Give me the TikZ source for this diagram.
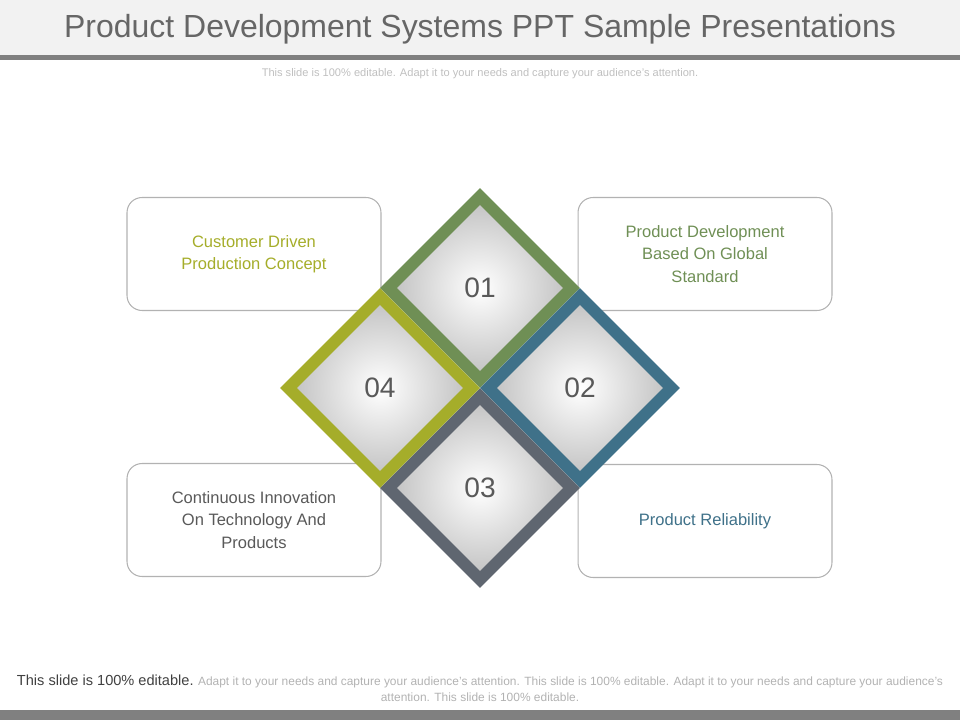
\documentclass[tikz,border=0pt]{standalone}
\usepackage{fontspec}
\setmainfont{Liberation Sans}
\usetikzlibrary{shapes.geometric}
\definecolor{frameGreen}{HTML}{6F8F55}
\definecolor{frameBlue}{HTML}{3F7189}
\definecolor{frameGray}{HTML}{5F6670}
\definecolor{frameOlive}{HTML}{A5AD2A}
\definecolor{textGray}{HTML}{595959}
\tikzset{
  infobox/.style={draw=black!30, line width=0.6pt, rounded corners=0.3cm, minimum width=5.08cm, minimum height=2.26cm, align=center, font=\fontsize{9.4}{12.6}\selectfont},
  tile/.style={diamond, aspect=1, inner sep=0pt, minimum size=3.76cm, line width=0.24cm, inner color=white, outer color=black!25, text=textGray, font=\fontsize{16}{18}\selectfont}
}
\begin{document}
\begin{tikzpicture}[x=0.02cm,y=-0.02cm]
    \useasboundingbox (0,0) rectangle (960,720);
    % header and footer bands
    \fill[black!5] (0,0) rectangle (960,55);
    \fill[black!50] (0,55) rectangle (960,60);
    \fill[black!50] (0,710) rectangle (960,720);
    \node[text=black!60, font=\fontsize{18.2}{20}\selectfont] (title) at (480,29) {Product Development  Systems  PPT  Sample  Presentations};
    \node[text=black!25, font=\fontsize{6.3}{8}\selectfont] (subtitle) at (480,74) {This slide is 100\%  editable.  Adapt it to your needs and capture your audience's attention.};

    % text boxes
    \node[infobox, text=frameOlive] (boxA) at (254,254) {Customer Driven\\Production Concept};
    \node[infobox, text=frameGreen] (boxB) at (705,254) {Product Development\\Based On Global\\Standard};
    \node[infobox, text=textGray] (boxD) at (254,520) {Continuous Innovation\\On Technology And\\Products};
    \node[infobox, text=frameBlue] (boxC) at (705,521) {Product Reliability};

    % diamond tiles
    \node[tile, draw=frameGreen] (tileA) at (480,288) {01};
    \node[tile, draw=frameBlue] (tileB) at (580,388) {02};
    \node[tile, draw=frameGray] (tileC) at (480,488) {03};
    \node[tile, draw=frameOlive] (tileD) at (380,388) {04};

    % footer text
    \node[align=center, text=black!30, font=\fontsize{6.8}{9}\selectfont] (footer) at (480,688)
      {{\color{black!75}\fontsize{8.3}{9}\selectfont This slide is 100\% editable.} Adapt it to your needs and capture your audience's attention. This slide is 100\% editable. Adapt it to your needs and capture your audience's\\attention. This slide is 100\% editable.};
\end{tikzpicture}
\end{document}
